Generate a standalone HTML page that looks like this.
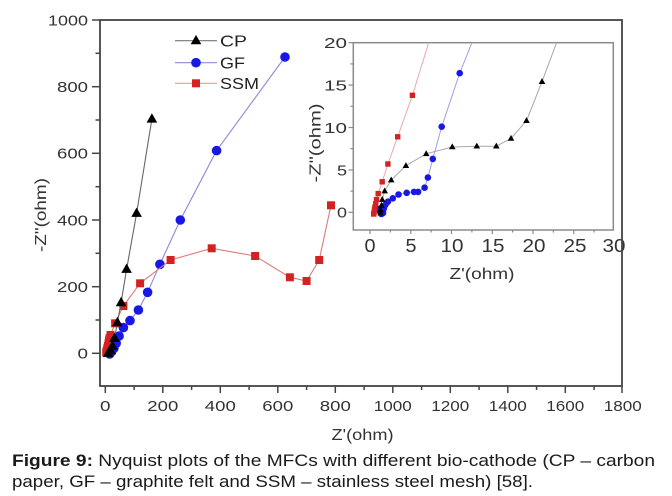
<!DOCTYPE html>
<html><head><meta charset="utf-8"><style>
html,body{margin:0;padding:0;background:#fff;}
svg{display:block;}
text{font-family:"Liberation Sans",Arial,sans-serif;}
</style></head><body>
<svg width="672" height="496" viewBox="0 0 672 496" xmlns="http://www.w3.org/2000/svg">
<defs>
<path id="tM" d="M0,-5.8 L5.3,3.6 L-5.3,3.6Z" fill="#000"/>
<circle id="cM" r="4.8" fill="#1818e6"/>
<rect id="sM" x="-4" y="-4" width="8" height="8" fill="#d42222"/>
<path id="tI" d="M0,-3.6 L3.3,2.3 L-3.3,2.3Z" fill="#000"/>
<circle id="cI" r="3.3" fill="#1818e6"/>
<rect id="sI" x="-2.7" y="-2.7" width="5.4" height="5.4" fill="#d42222"/>
</defs>
<rect width="672" height="496" fill="#fff"/>

<!-- main series -->
<polyline fill="none" stroke="#8a8ad6" stroke-width="1.1" points="109.6,354 111.6,351.6 113.9,348.3 116.2,343.3 119.1,336 123.4,327.6 130,320.6 138.4,310 147.6,292.3 159.9,264.3 180.3,220 216.6,150.6 285,57"/>
<g>
<use href="#cM" x="109.6" y="354"/><use href="#cM" x="111.6" y="351.6"/><use href="#cM" x="113.9" y="348.3"/><use href="#cM" x="116.2" y="343.3"/><use href="#cM" x="119.1" y="336"/><use href="#cM" x="123.4" y="327.6"/><use href="#cM" x="130" y="320.6"/><use href="#cM" x="138.4" y="310"/><use href="#cM" x="147.6" y="292.3"/><use href="#cM" x="159.9" y="264.3"/><use href="#cM" x="180.3" y="220"/><use href="#cM" x="216.6" y="150.6"/><use href="#cM" x="285" y="57"/>
</g>
<polyline fill="none" stroke="#e07a7a" stroke-width="1.1" points="106.2,352.6 106.7,350.6 107.3,348.3 107.9,346 108.5,343.3 109,340.6 109.6,338 110.5,335 115.1,323.3 123.4,306 140.1,283.3 170.6,260 211.7,248.3 255.1,256 289.9,277.3 306.6,281 319.2,260 331,205.3"/>
<g>
<use href="#sM" x="106.2" y="352.6"/><use href="#sM" x="106.7" y="350.6"/><use href="#sM" x="107.3" y="348.3"/><use href="#sM" x="107.9" y="346"/><use href="#sM" x="108.5" y="343.3"/><use href="#sM" x="109" y="340.6"/><use href="#sM" x="109.6" y="338"/><use href="#sM" x="110.5" y="335"/><use href="#sM" x="115.1" y="323.3"/><use href="#sM" x="123.4" y="306"/><use href="#sM" x="140.1" y="283.3"/><use href="#sM" x="170.6" y="260"/><use href="#sM" x="211.7" y="248.3"/><use href="#sM" x="255.1" y="256"/><use href="#sM" x="289.9" y="277.3"/><use href="#sM" x="306.6" y="281"/><use href="#sM" x="319.2" y="260"/><use href="#sM" x="331" y="205.3"/>
</g>
<polyline fill="none" stroke="#666" stroke-width="1.1" points="108.2,353.3 110.5,350.6 112.5,346 114.5,338.3 117.4,322.6 121.1,302.6 126.6,269.3 136.6,213.3 151.9,119"/>
<g>
<use href="#tM" x="108.2" y="353.3"/><use href="#tM" x="110.5" y="350.6"/><use href="#tM" x="112.5" y="346"/><use href="#tM" x="114.5" y="338.3"/><use href="#tM" x="117.4" y="322.6"/><use href="#tM" x="121.1" y="302.6"/><use href="#tM" x="126.6" y="269.3"/><use href="#tM" x="136.6" y="213.3"/><use href="#tM" x="151.9" y="119"/>
</g>

<!-- legend -->
<line x1="175" y1="40.7" x2="217" y2="40.7" stroke="#777" stroke-width="1.1"/>
<use href="#tM" x="196" y="40.7"/>
<text x="220" y="46.5" font-size="16" fill="#222" textLength="27" lengthAdjust="spacingAndGlyphs">CP</text>
<line x1="175" y1="62.7" x2="217" y2="62.7" stroke="#8a8ad6" stroke-width="1.1"/>
<use href="#cM" x="196" y="62.7"/>
<text x="220" y="68.5" font-size="16" fill="#222" textLength="25" lengthAdjust="spacingAndGlyphs">GF</text>
<line x1="175" y1="83.3" x2="217" y2="83.3" stroke="#e89a9a" stroke-width="1.1"/>
<use href="#sM" x="196" y="83.3"/>
<text x="220" y="89" font-size="16" fill="#222" textLength="39" lengthAdjust="spacingAndGlyphs">SSM</text>

<!-- inset -->
<rect x="353.3" y="42.7" width="260" height="187.3" fill="#fff" stroke="#8a8a8a" stroke-width="1.5"/>
<g stroke="#8a8a8a" stroke-width="1.2">
<line x1="348.5" y1="212.3" x2="353.3" y2="212.3"/><line x1="350.5" y1="191.1" x2="353.3" y2="191.1"/>
<line x1="348.5" y1="170" x2="353.3" y2="170"/><line x1="350.5" y1="148.7" x2="353.3" y2="148.7"/>
<line x1="348.5" y1="127.5" x2="353.3" y2="127.5"/><line x1="350.5" y1="106.3" x2="353.3" y2="106.3"/>
<line x1="348.5" y1="85.1" x2="353.3" y2="85.1"/><line x1="350.5" y1="63.9" x2="353.3" y2="63.9"/>
<line x1="348.5" y1="42.7" x2="353.3" y2="42.7"/>
<line x1="370" y1="230" x2="370" y2="234"/><line x1="390.4" y1="230" x2="390.4" y2="232.5"/>
<line x1="410.8" y1="230" x2="410.8" y2="234"/><line x1="431.1" y1="230" x2="431.1" y2="232.5"/>
<line x1="451.5" y1="230" x2="451.5" y2="234"/><line x1="471.9" y1="230" x2="471.9" y2="232.5"/>
<line x1="492.3" y1="230" x2="492.3" y2="234"/><line x1="512.6" y1="230" x2="512.6" y2="232.5"/>
<line x1="533" y1="230" x2="533" y2="234"/><line x1="553.4" y1="230" x2="553.4" y2="232.5"/>
<line x1="573.8" y1="230" x2="573.8" y2="234"/><line x1="594.1" y1="230" x2="594.1" y2="232.5"/>
</g>
<g font-size="15" fill="#333" text-anchor="end">
<text x="347" y="217.6" textLength="10" lengthAdjust="spacingAndGlyphs">0</text>
<text x="347" y="175.3" textLength="10" lengthAdjust="spacingAndGlyphs">5</text>
<text x="347" y="132.8" textLength="23" lengthAdjust="spacingAndGlyphs">10</text>
<text x="347" y="90.4" textLength="23" lengthAdjust="spacingAndGlyphs">15</text>
<text x="347" y="48" textLength="23" lengthAdjust="spacingAndGlyphs">20</text>
</g>
<g font-size="18" fill="#333" text-anchor="middle">
<text x="370" y="252" textLength="11" lengthAdjust="spacingAndGlyphs">0</text>
<text x="411" y="252" textLength="11" lengthAdjust="spacingAndGlyphs">5</text>
<text x="452" y="252" textLength="23" lengthAdjust="spacingAndGlyphs">10</text>
<text x="493" y="252" textLength="23" lengthAdjust="spacingAndGlyphs">15</text>
<text x="534" y="252" textLength="23" lengthAdjust="spacingAndGlyphs">20</text>
<text x="575" y="252" textLength="23" lengthAdjust="spacingAndGlyphs">25</text>
<text x="614" y="252" textLength="23" lengthAdjust="spacingAndGlyphs">30</text>
</g>
<text x="482" y="279" font-size="16" fill="#333" text-anchor="middle" textLength="65" lengthAdjust="spacingAndGlyphs">Z'(ohm)</text>
<text transform="translate(320.5,143) rotate(-90)" font-size="16" fill="#333" text-anchor="middle" textLength="79" lengthAdjust="spacingAndGlyphs">-Z"(ohm)</text>

<!-- inset series -->
<polyline fill="none" stroke="#a8a8a8" stroke-width="1" points="556.6,42.7 542,81.7 526.5,120.7 511,138.5 496.3,146.2 476.8,146.2 452.3,147 426.2,153.8 405.9,165.7 391.2,180.1 384.7,191.1 382.2,199.6 381.4,205.5 380.6,209.8 380.6,213.1"/>
<polyline fill="none" stroke="#a0a0e4" stroke-width="1" points="471.9,42.7 459.7,73.2 441.7,126.7 432.8,158.9 427.9,177.5 424.6,187.7 418.1,191.9 414,191.9 406.7,192.8 398.5,194.5 392.8,198.3 387.9,201.7 385.5,204.7 383.9,208.1 383,210.6 383,213.1 381.4,214 379.8,211.5 379,208.9"/>
<polyline fill="none" stroke="#eaaaaa" stroke-width="1" points="428.7,42.7 412.4,95.3 397.7,136.8 387.9,164 382.2,181.8 378.2,193.6 376.5,199.6 375.7,203.8 374.9,207.2 374.5,209.8 374.1,212.3 373.7,214"/>
<g>
<use href="#cI" x="459.7" y="73.2"/><use href="#cI" x="441.7" y="126.7"/><use href="#cI" x="432.8" y="158.9"/><use href="#cI" x="427.9" y="177.5"/><use href="#cI" x="424.6" y="187.7"/><use href="#cI" x="418.1" y="191.9"/><use href="#cI" x="414" y="191.9"/><use href="#cI" x="406.7" y="192.8"/><use href="#cI" x="398.5" y="194.5"/><use href="#cI" x="392.8" y="198.3"/><use href="#cI" x="387.9" y="201.7"/><use href="#cI" x="385.5" y="204.7"/><use href="#cI" x="383.9" y="208.1"/><use href="#cI" x="383" y="210.6"/><use href="#cI" x="383" y="213.1"/><use href="#cI" x="381.4" y="214"/><use href="#cI" x="379.8" y="211.5"/><use href="#cI" x="379" y="208.9"/>
</g>
<g>
<use href="#sI" x="412.4" y="95.3"/><use href="#sI" x="397.7" y="136.8"/><use href="#sI" x="387.9" y="164"/><use href="#sI" x="382.2" y="181.8"/><use href="#sI" x="378.2" y="193.6"/><use href="#sI" x="376.5" y="199.6"/><use href="#sI" x="375.7" y="203.8"/><use href="#sI" x="374.9" y="207.2"/><use href="#sI" x="374.5" y="209.8"/><use href="#sI" x="374.1" y="212.3"/><use href="#sI" x="373.7" y="214"/>
</g>
<g>
<use href="#tI" x="542" y="81.7"/><use href="#tI" x="526.5" y="120.7"/><use href="#tI" x="511" y="138.5"/><use href="#tI" x="496.3" y="146.2"/><use href="#tI" x="476.8" y="146.2"/><use href="#tI" x="452.3" y="147"/><use href="#tI" x="426.2" y="153.8"/><use href="#tI" x="405.9" y="165.7"/><use href="#tI" x="391.2" y="180.1"/><use href="#tI" x="384.7" y="191.1"/><use href="#tI" x="382.2" y="199.6"/><use href="#tI" x="381.4" y="205.5"/><use href="#tI" x="380.6" y="209.8"/><use href="#tI" x="380.6" y="213.1"/>
</g>

<!-- main frame -->
<rect x="100" y="20" width="522" height="366" fill="none" stroke="#444" stroke-width="1.8"/>
<g stroke="#444" stroke-width="1.5">
<line x1="92" y1="20" x2="100" y2="20"/><line x1="95.5" y1="53.3" x2="100" y2="53.3"/>
<line x1="92" y1="86.7" x2="100" y2="86.7"/><line x1="95.5" y1="120" x2="100" y2="120"/>
<line x1="92" y1="153.3" x2="100" y2="153.3"/><line x1="95.5" y1="186.7" x2="100" y2="186.7"/>
<line x1="92" y1="220" x2="100" y2="220"/><line x1="95.5" y1="253.3" x2="100" y2="253.3"/>
<line x1="92" y1="286.7" x2="100" y2="286.7"/><line x1="95.5" y1="320" x2="100" y2="320"/>
<line x1="92" y1="353.3" x2="100" y2="353.3"/>
<line x1="105.3" y1="386" x2="105.3" y2="393"/><line x1="134.1" y1="386" x2="134.1" y2="390"/>
<line x1="162.8" y1="386" x2="162.8" y2="393"/><line x1="191.6" y1="386" x2="191.6" y2="390"/>
<line x1="220.3" y1="386" x2="220.3" y2="393"/><line x1="249.1" y1="386" x2="249.1" y2="390"/>
<line x1="277.8" y1="386" x2="277.8" y2="393"/><line x1="306.6" y1="386" x2="306.6" y2="390"/>
<line x1="335.3" y1="386" x2="335.3" y2="393"/><line x1="364.1" y1="386" x2="364.1" y2="390"/>
<line x1="392.8" y1="386" x2="392.8" y2="393"/><line x1="421.6" y1="386" x2="421.6" y2="390"/>
<line x1="450.3" y1="386" x2="450.3" y2="393"/><line x1="479.1" y1="386" x2="479.1" y2="390"/>
<line x1="507.8" y1="386" x2="507.8" y2="393"/><line x1="536.6" y1="386" x2="536.6" y2="390"/>
<line x1="565.3" y1="386" x2="565.3" y2="393"/><line x1="594.1" y1="386" x2="594.1" y2="390"/>
<line x1="622" y1="386" x2="622" y2="393"/>
</g>
<g font-size="15" fill="#333" text-anchor="end">
<text x="88" y="25.3" textLength="40" lengthAdjust="spacingAndGlyphs">1000</text>
<text x="88" y="92" textLength="31" lengthAdjust="spacingAndGlyphs">800</text>
<text x="88" y="158.6" textLength="31" lengthAdjust="spacingAndGlyphs">600</text>
<text x="88" y="225.3" textLength="31" lengthAdjust="spacingAndGlyphs">400</text>
<text x="88" y="292" textLength="31" lengthAdjust="spacingAndGlyphs">200</text>
<text x="88" y="358.6" textLength="10.5" lengthAdjust="spacingAndGlyphs">0</text>
</g>
<g font-size="15" fill="#333" text-anchor="middle">
<text x="105.3" y="411" textLength="10.5" lengthAdjust="spacingAndGlyphs">0</text>
<text x="162.8" y="411" textLength="31" lengthAdjust="spacingAndGlyphs">200</text>
<text x="220.3" y="411" textLength="31" lengthAdjust="spacingAndGlyphs">400</text>
<text x="277.8" y="411" textLength="31" lengthAdjust="spacingAndGlyphs">600</text>
<text x="335.3" y="411" textLength="31" lengthAdjust="spacingAndGlyphs">800</text>
<text x="392.8" y="411" textLength="38" lengthAdjust="spacingAndGlyphs">1000</text>
<text x="450.3" y="411" textLength="38" lengthAdjust="spacingAndGlyphs">1200</text>
<text x="507.8" y="411" textLength="38" lengthAdjust="spacingAndGlyphs">1400</text>
<text x="565.3" y="411" textLength="38" lengthAdjust="spacingAndGlyphs">1600</text>
<text x="622.8" y="411" textLength="38" lengthAdjust="spacingAndGlyphs">1800</text>
</g>
<text x="362.5" y="440" font-size="16" fill="#333" text-anchor="middle" textLength="62" lengthAdjust="spacingAndGlyphs">Z'(ohm)</text>
<text transform="translate(46,215) rotate(-90)" font-size="16" fill="#333" text-anchor="middle" textLength="74" lengthAdjust="spacingAndGlyphs">-Z"(ohm)</text>

<!-- caption -->
<text x="12" y="466" font-size="17" fill="#1a1a1a" textLength="643" lengthAdjust="spacingAndGlyphs"><tspan font-weight="bold">Figure 9:</tspan> Nyquist plots of the MFCs with different bio-cathode (CP – carbon</text>
<text x="12" y="487" font-size="17" fill="#1a1a1a" textLength="521" lengthAdjust="spacingAndGlyphs">paper, GF – graphite felt and SSM – stainless steel mesh) [58].</text>
</svg>
</body></html>
